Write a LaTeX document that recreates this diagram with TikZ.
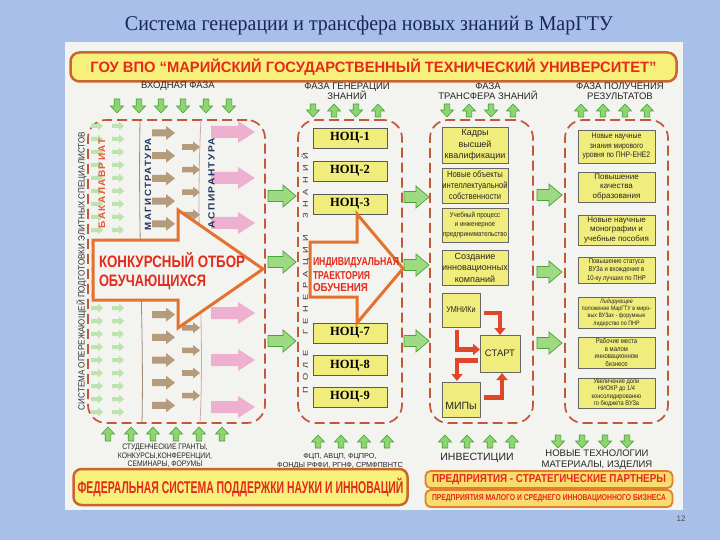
\documentclass[tikz,border=0pt]{standalone}
\usepackage{fontspec}
\usepackage{graphicx}
\setmainfont{Liberation Sans}
\newfontfamily\serifT{Liberation Serif}
\newfontfamily\cond[FakeStretch=0.85]{Liberation Sans}
\newfontfamily\spcd[LetterSpace=14]{Liberation Sans}
\newfontfamily\spwide[LetterSpace=60]{Liberation Sans}
\usetikzlibrary{arrows.meta,calc}
\newcommand\hfit[2]{\resizebox{#1}{\height}{#2}}
\newcommand\fs[2]{\fontsize{#1}{#2}\selectfont}
% x y angle length shafthalf headhalf headlength style
\newcommand\barr[8]{\path[#8,shift={(#1,#2)},rotate=#3] (0,-#5) -- ({#4-#7},-#5) -- ({#4-#7},-#6) -- (#4,0) -- ({#4-#7},#6) -- ({#4-#7},#5) -- (0,#5) -- cycle;}
\definecolor{bgblue}{HTML}{A8C0E9}
\definecolor{panel}{HTML}{F3F3EF}
\definecolor{hdrfill}{HTML}{F7F07A}
\definecolor{hdrline}{HTML}{C8662E}
\definecolor{redtxt}{HTML}{E32A1C}
\definecolor{dashc}{HTML}{C2573A}
\definecolor{boxy}{HTML}{F1ED7C}
\definecolor{garrf}{HTML}{8ED470}
\definecolor{garrb}{HTML}{9EDA82}
\definecolor{garrd}{HTML}{4AA23C}
\definecolor{lgarr}{HTML}{BDE3AF}
\definecolor{tanarr}{HTML}{B39B7C}
\definecolor{pinkarr}{HTML}{EDB0CE}
\definecolor{orangeln}{HTML}{E2722E}
\definecolor{navy}{HTML}{1E3462}
\definecolor{titleblue}{HTML}{1A2560}
\definecolor{redarr}{HTML}{E2462A}
\definecolor{bakc}{HTML}{E8583A}
\definecolor{sepa}{HTML}{9E8C7C}
\definecolor{sepb}{HTML}{D6A2BC}
\definecolor{barfill}{HTML}{F8DC6E}
\definecolor{barline}{HTML}{E0802E}
\begin{document}
\begin{tikzpicture}[x=1pt,y=-1pt,
  every node/.style={inner sep=0pt,outer sep=0pt},
  dbox/.style={draw=dashc,line width=1.7pt,dash pattern=on 10pt off 5pt,rounded corners=18pt},
  noc/.style={draw=black!65,line width=0.7pt,fill=boxy,minimum width=74pt,minimum height=20pt,font=\serifT\bfseries\fs{12.5}{12.5}},
  yb/.style={draw=black!60,line width=0.6pt,fill=boxy,align=center,text=black!85},
  ga/.style={fill=garrf,draw=garrd,line width=0.6pt},
  gb/.style={fill=garrb,draw=garrd,line width=0.7pt},
  lg/.style={fill=lgarr},
  tanS/.style={fill=tanarr},
  pinkS/.style={fill=pinkarr},
  bigarr/.style={fill=panel,draw=orangeln,line width=3pt,line join=miter},
  ra/.style={draw=redarr,line width=4.5pt,line join=miter,-{Triangle[width=11pt,length=7pt]}},
  lbl/.style={font=\fs{9.5}{10.5},align=center,text=black!85},
  blbl/.style={font=\cond\fs{8}{8.7},align=center,text=black!85}
]
\useasboundingbox (0,0) rectangle (720,540);
\fill[bgblue] (0,0) rectangle (720,540);
\fill[panel] (65,42) rectangle (683,510);

% title
\node[text=titleblue,font=\serifT] (title) at (369,25) {\hfit{488pt}{\fs{21}{21}Система генерации и трансфера новых знаний в МарГТУ}};

% header
\node[draw=hdrline,line width=2.5pt,fill=hdrfill,rounded corners=9pt,minimum width=606pt,minimum height=29pt,text=redtxt,font=\bfseries\fs{15}{15}] (hdr) at (373.5,67) {\hfit{566pt}{ГОУ ВПО “МАРИЙСКИЙ ГОСУДАРСТВЕННЫЙ ТЕХНИЧЕСКИЙ УНИВЕРСИТЕТ”}};

% phase labels
\node[lbl] (ph1) at (178,86) {ВХОДНАЯ ФАЗА};
\node[lbl] (ph2) at (347,91) {ФАЗА ГЕНЕРАЦИИ\\ЗНАНИЙ};
\node[lbl] (ph3) at (488,91) {ФАЗА\\ТРАНСФЕРА ЗНАНИЙ};
\node[lbl] (ph4) at (620,91) {ФАЗА ПОЛУЧЕНИЯ\\РЕЗУЛЬТАТОВ};

% dashed column boxes
\node[dbox,minimum width=177pt,minimum height=303pt] (c1) at (176.5,271.5) {};
\node[dbox,minimum width=104pt,minimum height=303pt] (c2) at (350,271.5) {};
\node[dbox,minimum width=103pt,minimum height=303pt] (c3) at (481.5,271.5) {};
\node[dbox,minimum width=103pt,minimum height=303pt] (c4) at (616.5,271.5) {};

% top small arrows
\foreach \xx in {117,139,161,183,206,229} {\barr{\xx}{99}{-90}{14}{2.8}{6.5}{7}{ga}}
\foreach \xx in {313,356,447,491} {\barr{\xx}{104}{-90}{13}{2.8}{6.5}{7}{ga}}
\foreach \xx in {334,378,469,513,581,603,625,647} {\barr{\xx}{117}{90}{13}{2.8}{6.5}{7}{ga}}
% bottom small arrows
\foreach \xx in {108,131,153,176,199,222} {\barr{\xx}{441}{90}{14}{2.8}{6.5}{7}{ga}}
\foreach \xx in {318,341,364,387,445,467,490,512} {\barr{\xx}{448}{90}{13}{2.8}{6.5}{7}{ga}}
\foreach \xx in {558,582,605,627} {\barr{\xx}{435}{-90}{13}{2.8}{6.5}{7}{ga}}

% big green arrows between columns
\foreach \yy in {196,262,341} {\barr{268}{\yy}{0}{28}{5.5}{11}{13}{gb}}
\foreach \yy in {197,265,341} {\barr{404}{\yy}{0}{25}{5.5}{11}{13}{gb}}
\foreach \yy in {195,272,343} {\barr{537}{\yy}{0}{25}{5.5}{11}{13}{gb}}

% column 1 inner arrows
\foreach \k in {0,...,22} {\pgfmathsetmacro\yy{126+13*\k}\barr{91}{\yy}{0}{12}{2}{4.5}{5}{lg}\barr{112}{\yy}{0}{12}{2}{4.5}{5}{lg}}
\foreach \k in {0,...,12} {\pgfmathsetmacro\yy{133+22.7*\k}\barr{152}{\yy}{0}{23}{3.5}{7}{9}{tanS}}
\foreach \k in {0,...,11} {\pgfmathsetmacro\yy{147+22.6*\k}\barr{182}{\yy}{0}{18}{2.8}{5.5}{7}{tanS}}
\foreach \yy in {132,178,223,313,360,407} {\barr{211}{\yy}{0}{44}{6}{11}{17}{pinkS}}
\draw[sepa,line width=0.8pt] (140,121) .. controls (138,240) and (144,330) .. (142,423);
\draw[sepb,line width=0.8pt] (201,120) .. controls (195,230) and (205,330) .. (200,423);

% big selection arrow
\path[bigarr] (93,240) -- (178,240) -- (178,210) -- (263,269) -- (178,328) -- (178,300) -- (93,300) -- cycle;
\node[anchor=base west,text=redtxt,font=\bfseries\fs{16.5}{16.5}] (ko1) at (99,267) {\hfit{146pt}{КОНКУРСНЫЙ ОТБОР}};
\node[anchor=base west,text=redtxt,font=\bfseries\fs{16.5}{16.5}] (ko2) at (99,286) {\hfit{107pt}{ОБУЧАЮЩИХСЯ}};

% vertical texts col1
\node[rotate=90,text=black!80,font=\fs{9}{9}] (sys) at (81.5,271) {\hfit{278pt}{СИСТЕМА ОПЕРЕЖАЮЩЕЙ ПОДГОТОВКИ ЭЛИТНЫХ СПЕЦИАЛИСТОВ}};
\node[rotate=90,text=bakc,font=\spcd\bfseries\fs{9.5}{9.5}] (bak) at (102,183) {\hfit{90pt}{БАКАЛАВРИАТ}};
\node[rotate=90,text=navy,font=\spcd\bfseries\fs{9}{9}] (mag) at (148,184) {\hfit{92pt}{МАГИСТРАТУРА}};
\node[rotate=90,text=navy,font=\spcd\bfseries\fs{9}{9}] (asp) at (211.5,183) {\hfit{90pt}{АСПИРАНТУРА}};

% column 2
\node[noc] (n1) at (350,138) {НОЦ-1};
\node[noc] (n2) at (350,171) {НОЦ-2};
\node[noc] (n3) at (350,204) {НОЦ-3};
\node[noc] (n7) at (350,333) {НОЦ-7};
\node[noc] (n8) at (350,365.5) {НОЦ-8};
\node[noc] (n9) at (350,397) {НОЦ-9};
\path[bigarr] (310,242) -- (357,242) -- (357,214) -- (403,268.5) -- (357,323) -- (357,297) -- (310,297) -- cycle;
\node[anchor=base west,text=redtxt,font=\bfseries\fs{11.5}{11.5}] (it1) at (313,265.5) {\hfit{86pt}{ИНДИВИДУАЛЬНАЯ}};
\node[anchor=base west,text=redtxt,font=\bfseries\fs{11.5}{11.5}] (it2) at (313,279) {\hfit{57pt}{ТРАЕКТОРИЯ}};
\node[anchor=base west,text=redtxt,font=\bfseries\fs{11.5}{11.5}] (it3) at (313,291) {\hfit{55pt}{ОБУЧЕНИЯ}};
\node[rotate=90,text=black!80,font=\spwide\fs{7}{7}] (pole) at (305.5,273) {\hfit{240pt}{ПОЛЕ\hspace{12pt}ГЕНЕРАЦИИ\hspace{12pt}ЗНАНИЙ}};

% column 3
\node[yb,minimum width=66pt,minimum height=36pt,font=\fs{9}{11.5}] (k1) at (475,145) {Кадры\\высшей\\квалификации};
\node[yb,minimum width=66pt,minimum height=35pt,font=\cond\fs{9}{11}] (k2) at (475,185.5) {Новые объекты\\интеллектуальной\\собственности};
\node[yb,minimum width=66pt,minimum height=34pt,font=\cond\fs{7.3}{9.5}] (k3) at (475,225) {Учебный процесс\\и инженерное\\предпринимательство};
\node[yb,minimum width=66pt,minimum height=35pt,font=\fs{9}{11.5}] (k4) at (475,267.5) {Создание\\инновационных\\компаний};
\node[yb,minimum width=38pt,minimum height=34pt,font=\cond\fs{8.5}{9}] (umn) at (461,310) {УМНИКи};
\node[yb,minimum width=40pt,minimum height=37pt,font=\fs{9.5}{10}] (start) at (500,353.5) {СТАРТ};
\node[yb,minimum width=38pt,minimum height=35pt] (mip) at (461,399.5) {};
\node[font=\fs{10.5}{10.5},text=black!85] (mipt) at (461,406) {МИПы};
\draw[ra] ($(umn.east)+(4,3)$) -| (start.north);
\draw[ra] ($(umn.south)+(-4,3)$) |- ($(start.west)+(0,-4)$);
\draw[ra] ($(start.west)+(-2,7)$) -| ($(mip.north)+(-4,-1)$);
\draw[ra] ($(mip.east)+(4,-2)$) -| ($(start.south)+(2,1)$);

% column 4
\node[yb,minimum width=77pt,minimum height=33pt,font=\cond\fs{8}{9.5}] (r1) at (616.5,146.5) {Новые научные\\знания мирового\\уровня по ПНР-ЕНЕ2};
\node[yb,minimum width=77pt,minimum height=30pt,font=\fs{8}{9.5}] (r2) at (616.5,187) {Повышение\\качества\\образования};
\node[yb,minimum width=77pt,minimum height=30pt,font=\fs{8}{9.5}] (r3) at (616.5,230) {Новые научные\\монографии и\\учебные пособия};
\node[yb,minimum width=77pt,minimum height=26pt,font=\cond\fs{7}{8.5}] (r4) at (616.5,270) {Повышение статуса\\ВУЗа и вхождение в\\10-ку лучших по ПНР};
\node[yb,minimum width=77pt,minimum height=31pt,font=\cond\fs{6.3}{7.4}] (r5) at (616.5,312.5) {\textit{Лидирующее}\\положение МарГТУ в миро-\\вых ВУЗах - форумные\\лидерство по ПНР};
\node[yb,minimum width=77pt,minimum height=31pt,font=\cond\fs{7}{7.7}] (r6) at (616.5,352.5) {Рабочие места\\в малом\\инновационном\\бизнесе};
\node[yb,minimum width=77pt,minimum height=30pt,font=\cond\fs{6.7}{7.5}] (r7) at (616.5,393) {Увеличение доли\\НИОКР до 1/4\\консолидированно\\го бюджета ВУЗа};

% bottom labels
\node[blbl] (b1) at (165,456) {СТУДЕНЧЕСКИЕ ГРАНТЫ,\\КОНКУРСЫ,КОНФЕРЕНЦИИ,\\СЕМИНАРЫ, ФОРУМЫ};
\node[blbl,font=\fs{7.3}{8.5}] (b2) at (340,461) {ФЦП, АВЦП, ФЦПРО,\\ФОНДЫ РФФИ, РГНФ, СРМФПВНТС};
\node[lbl,font=\fs{10.5}{10.5}] (b3) at (477,458) {ИНВЕСТИЦИИ};
\node[lbl,font=\fs{9.5}{11}] (b4) at (597,459.5) {НОВЫЕ ТЕХНОЛОГИИ\\МАТЕРИАЛЫ, ИЗДЕЛИЯ};

% bottom bars
\node[draw=hdrline,line width=2.5pt,fill=hdrfill,rounded corners=8pt,minimum width=334pt,minimum height=36pt,text=redtxt,font=\bfseries\fs{17}{17}] (fed) at (240.5,487) {\hfit{326pt}{ФЕДЕРАЛЬНАЯ СИСТЕМА ПОДДЕРЖКИ НАУКИ И ИННОВАЦИЙ}};
\node[draw=barline,line width=1.8pt,fill=barfill,rounded corners=5pt,minimum width=247pt,minimum height=17pt,text=redtxt,font=\bfseries\fs{11.5}{11.5}] (bar1) at (549,479.5) {\hfit{234pt}{ПРЕДПРИЯТИЯ - СТРАТЕГИЧЕСКИЕ ПАРТНЕРЫ}};
\node[draw=barline,line width=1.8pt,fill=barfill,rounded corners=5pt,minimum width=247pt,minimum height=17pt,text=redtxt,font=\bfseries\fs{8.5}{8.5}] (bar2) at (549,498.5) {\hfit{234pt}{ПРЕДПРИЯТИЯ МАЛОГО И СРЕДНЕГО ИННОВАЦИОННОГО БИЗНЕСА}};

\node[font=\fs{8}{8},text=black!70] (pg) at (681,519) {12};
\end{tikzpicture}
\end{document}
